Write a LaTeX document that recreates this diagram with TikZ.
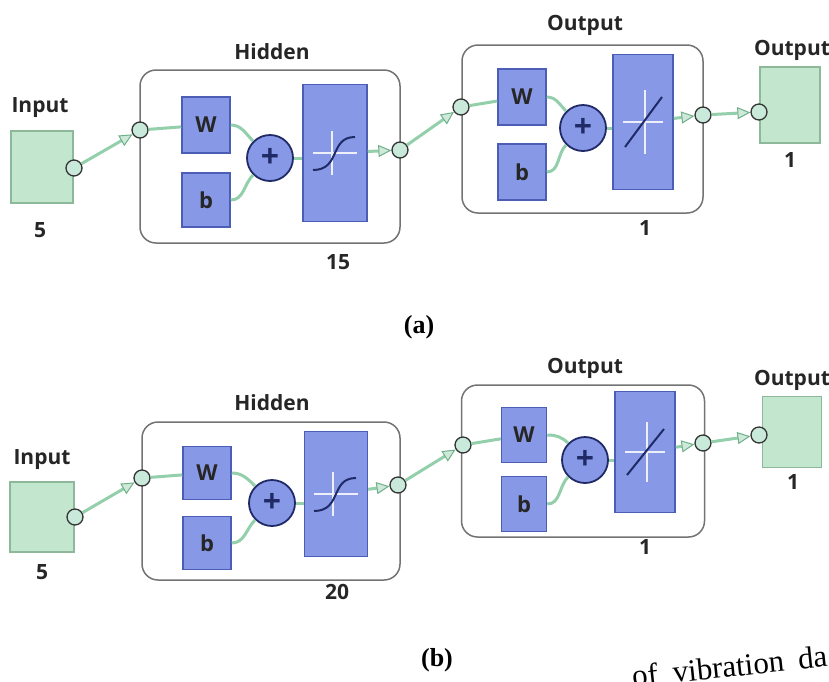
\documentclass[tikz,border=0pt]{standalone}
\usepackage{fontspec}
\setmainfont{Liberation Serif}
\setsansfont{Open Sans}
\usetikzlibrary{arrows.meta}

\definecolor{iogreen}{HTML}{C3E6CE}
\definecolor{iogreenedge}{HTML}{8DB89A}
\definecolor{wblue}{HTML}{8799E6}
\definecolor{wblueedge}{HTML}{4B5DB5}
\definecolor{linkgreen}{HTML}{93CFAA}
\definecolor{tipgreen}{HTML}{6FB08A}
\definecolor{dotfill}{HTML}{C9EADA}
\definecolor{curveblue}{HTML}{1F2A66}

\begin{document}
\begin{tikzpicture}[x=1pt, y=1pt,
    lbl/.style={font=\sffamily\bfseries\fontsize{21}{24}\selectfont, inner sep=0pt, text=black!85},
    iobox/.style={draw=iogreenedge, fill=iogreen, line width=1.5pt},
    layer/.style={draw=black!55, fill=white, line width=1.5pt, rounded corners=16pt},
    wbox/.style={draw=wblueedge, fill=wblue, line width=1.5pt, minimum width=48pt, minimum height=56pt,
      font=\sffamily\bfseries\fontsize{22}{24}\selectfont, text=black!85},
    sumnode/.style={circle, draw=curveblue, fill=wblue, line width=1.8pt, minimum size=46pt, inner sep=0pt,
      font=\sffamily\bfseries\fontsize{32}{32}\selectfont, text=curveblue},
    tfbox/.style={draw=wblueedge, fill=wblue, line width=1.5pt},
    dot/.style={circle, draw=black!80, fill=dotfill, line width=1.3pt, minimum size=16pt, inner sep=0pt},
    link/.style={draw=linkgreen, line width=3pt},
    arr/.style={link, -{Triangle[length=13pt, width=12pt, fill=linkgreen!45, color=tipgreen, line width=1pt]}},
    cross/.style={draw=white!85!wblue, line width=1.2pt},
    curve/.style={draw=curveblue, line width=2pt},
    caption/.style={font=\bfseries\fontsize{26}{30}\selectfont, inner sep=0pt}
  ]
  \useasboundingbox (0,0) rectangle (829,-681);

  % ---------------- (a) ----------------
  \node[layer, minimum width=260pt, minimum height=173pt] (hidA) at (270,-156.5) {};
  \node[layer, minimum width=241pt, minimum height=168pt] (outA) at (582.5,-129) {};

  \node[iobox, minimum width=62pt, minimum height=72pt] (inA) at (42,-167) {};
  \node[lbl] (inAlbl) at (40,-108) {Input};
  \node[lbl] (inAnum) at (40,-230) {5};
  \node[dot] (inAo) at (74,-168) {};

  \node[lbl] (hidAlbl) at (272,-52) {Hidden};
  \node[lbl] (hidAnum) at (338,-262) {15};
  \node[dot] (hidAi) at (140,-130) {};
  \node[wbox] (wA) at (206,-125) {W};
  \node[wbox, minimum height=54pt] (bA) at (206,-200) {b};
  \node[sumnode] (sumA) at (270,-158) {+};
  \node[tfbox, minimum width=64pt, minimum height=137pt] (tfA) at (335,-153) {};
  \node[dot] (hidAo) at (400,-150) {};
  \begin{scope}[shift={(tfA.center)}]
    \draw[cross] (-22,0) -- (22,0);
    \draw[cross] (-3,-22) -- (-3,22);
    \draw[curve] (-22,-17) .. controls (6,-17) and (-6,16) .. (20,16);
  \end{scope}

  \node[lbl] (outAlbl) at (585,-25) {Output};
  \node[lbl] (outAnum) at (645,-228) {1};
  \node[dot] (outAi) at (461,-107) {};
  \node[wbox] (wA2) at (522,-97) {W};
  \node[wbox] (bA2) at (522,-172) {b};
  \node[sumnode] (sumA2) at (583,-128) {+};
  \node[tfbox, minimum width=60pt, minimum height=135pt] (tfA2) at (643,-122) {};
  \node[dot] (outAo) at (703,-115) {};
  \begin{scope}[shift={(tfA2.center)}]
    \draw[cross] (-20,0) -- (20,0);
    \draw[cross] (2,-32) -- (2,32);
    \draw[curve] (-18,-25) -- (19,25);
  \end{scope}

  \node[iobox, minimum width=60pt, minimum height=76pt] (finA) at (790,-105) {};
  \node[lbl] (finAlbl) at (792,-50) {Output};
  \node[lbl] (finAnum) at (790,-160) {1};
  \node[dot] (finAi) at (759,-112) {};

  \draw[arr] (inAo) -- (hidAi);
  \draw[link] (hidAi) -- (wA);
  \draw[link] (wA.east) to[out=0, in=135] (sumA);
  \draw[link] (bA.east) to[out=0, in=225] (sumA);
  \draw[link] (sumA) -- (sumA -| tfA.west);
  \draw[arr] (tfA) -- (hidAo);
  \draw[arr] (hidAo) -- (outAi);
  \draw[link] (outAi) -- (wA2);
  \draw[link] (wA2.east) to[out=0, in=135] (sumA2);
  \draw[link] (bA2.east) to[out=0, in=225] (sumA2);
  \draw[link] (sumA2) -- (sumA2 -| tfA2.west);
  \draw[arr] (tfA2) -- (outAo);
  \draw[arr] (outAo) -- (finAi);

  \node[caption] (capA) at (419,-327) {(a)};

  % ---------------- (b) ----------------
  \node[layer, minimum width=258pt, minimum height=158pt] (hidB) at (271,-501) {};
  \node[layer, minimum width=243pt, minimum height=152pt] (outB) at (583,-461) {};

  \node[iobox, minimum width=64pt, minimum height=70pt] (inB) at (42,-517) {};
  \node[lbl] (inBlbl) at (42,-460) {Input};
  \node[lbl] (inBnum) at (42,-572) {5};
  \node[dot] (inBo) at (75,-517) {};

  \node[lbl] (hidBlbl) at (272,-403) {Hidden};
  \node[lbl] (hidBnum) at (337,-592) {20};
  \node[dot] (hidBi) at (142,-478) {};
  \node[wbox, minimum height=53pt] (wB) at (207,-473) {W};
  \node[wbox, minimum height=53pt] (bB) at (207,-543) {b};
  \node[sumnode] (sumB) at (272,-503) {+};
  \node[tfbox, minimum width=63pt, minimum height=125pt] (tfB) at (336,-494) {};
  \node[dot] (hidBo) at (398,-485) {};
  \begin{scope}[shift={(tfB.center)}]
    \draw[cross] (-22,0) -- (22,0);
    \draw[cross] (-3,-22) -- (-3,22);
    \draw[curve] (-22,-17) .. controls (6,-17) and (-6,16) .. (20,16);
  \end{scope}

  \node[lbl] (outBlbl) at (585,-368) {Output};
  \node[lbl] (outBnum) at (645,-547) {1};
  \node[dot] (outBi) at (463,-445) {};
  \node[wbox, minimum width=45pt, minimum height=55pt] (wB2) at (524,-435) {W};
  \node[wbox, minimum width=45pt, minimum height=55pt] (bB2) at (524,-504) {b};
  \node[sumnode] (sumB2) at (585,-460) {+};
  \node[tfbox, minimum width=60pt, minimum height=121pt] (tfB2) at (645,-452) {};
  \node[dot] (outBo) at (703,-443) {};
  \begin{scope}[shift={(tfB2.center)}]
    \draw[cross] (-20,0) -- (20,0);
    \draw[cross] (2,-30) -- (2,30);
    \draw[curve] (-18,-23) -- (19,23);
  \end{scope}

  \node[iobox, minimum width=59pt, minimum height=71pt] (finB) at (792,-432) {};
  \node[lbl] (finBlbl) at (792,-380) {Output};
  \node[lbl] (finBnum) at (793,-482) {1};
  \node[dot] (finBi) at (759,-435) {};

  \draw[arr] (inBo) -- (hidBi);
  \draw[link] (hidBi) -- (wB);
  \draw[link] (wB.east) to[out=0, in=135] (sumB);
  \draw[link] (bB.east) to[out=0, in=225] (sumB);
  \draw[link] (sumB) -- (sumB -| tfB.west);
  \draw[arr] (tfB) -- (hidBo);
  \draw[arr] (hidBo) -- (outBi);
  \draw[link] (outBi) -- (wB2);
  \draw[link] (wB2.east) to[out=0, in=135] (sumB2);
  \draw[link] (bB2.east) to[out=0, in=225] (sumB2);
  \draw[link] (sumB2) -- (sumB2 -| tfB2.west);
  \draw[arr] (tfB2) -- (outBo);
  \draw[arr] (outBo) -- (finBi);

  \node[caption] (capB) at (437,-660) {(b)};
  \node[font=\fontsize{31}{34}\selectfont, inner sep=0pt, anchor=base west, rotate=6] (frag) at (633,-687)
    {of\hspace{15pt}vibration\hspace{14pt}da};
\end{tikzpicture}
\end{document}
